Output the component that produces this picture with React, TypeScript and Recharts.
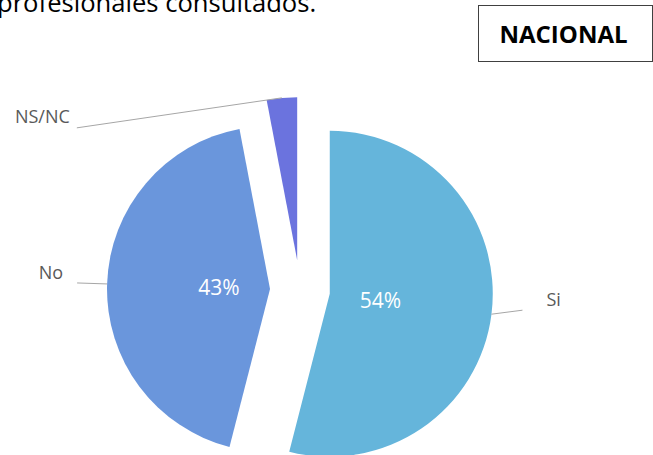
import { PieChart, Pie, Cell, Sector } from "recharts";

const categories = ["Si", "No", "NS/NC"];
const shares = [54, 43, 3];
const sliceColors = ["#65b5db", "#6a96dc", "#6b73de"];

const headerText = "profesionales consultados.";
const boxText = "NACIONAL";

const data = categories.map((name, i) => ({ name, value: shares[i] }));

const RAD = Math.PI / 180;
const EXPLODE = 30;
const FONT = "'Open Sans', 'Segoe UI', sans-serif";

// leader line end relative to the slice edge, text offset relative to line end
const labelLayout: Record<string, { line: [number, number]; text: [number, number]; anchor: "start" | "end" }> = {
  Si: { line: [31, -4], text: [24, -11], anchor: "start" },
  No: { line: [-30, -1], text: [-14, -11], anchor: "end" },
  "NS/NC": { line: [-205, 30], text: [-7, -12], anchor: "end" },
};

function explodedCenter(cx: number, cy: number, midAngle: number) {
  return [cx + EXPLODE * Math.cos(-midAngle * RAD), cy + EXPLODE * Math.sin(-midAngle * RAD)];
}

function ExplodedSector(props: any) {
  const [x, y] = explodedCenter(props.cx, props.cy, props.midAngle);
  return <Sector {...props} cx={x} cy={y} stroke="none" />;
}

function renderLabel(props: any) {
  const { cx, cy, midAngle, outerRadius, percent } = props;
  const name = props.name ?? props.payload?.name;
  const [ox, oy] = explodedCenter(cx, cy, midAngle);
  const cos = Math.cos(-midAngle * RAD);
  const sin = Math.sin(-midAngle * RAD);
  const sx = ox + outerRadius * cos;
  const sy = oy + outerRadius * sin;
  const layout = labelLayout[name];
  const ex = sx + layout.line[0];
  const ey = sy + layout.line[1];
  return (
    <g>
      {percent >= 0.05 && (
        <text
          x={ox + 51 * cos}
          y={oy + 51 * sin}
          fill="#ffffff"
          fontSize={21}
          fontFamily={FONT}
          textAnchor="middle"
          dominantBaseline="central"
        >
          {Math.round(percent * 100)}%
        </text>
      )}
      <path d={`M${sx},${sy}L${ex},${ey}`} stroke="#a6a6a6" strokeWidth={1} fill="none" />
      <text
        x={ex + layout.text[0]}
        y={ey + layout.text[1]}
        fill="#595959"
        fontSize={18}
        fontFamily={FONT}
        textAnchor={layout.anchor}
        dominantBaseline="central"
      >
        {name}
      </text>
    </g>
  );
}

export default function App() {
  return (
    <div style={{ position: "fixed", left: 0, top: 0, width: 653, height: 455, overflow: "hidden", background: "#fff" }}>
      <PieChart
        width={653}
        height={455}
        margin={{ top: 0, right: 0, bottom: 0, left: 0 }}
        accessibilityLayer={false}
        style={{ outline: "none" }}
      >
        <Pie
          data={data}
          dataKey="value"
          nameKey="name"
          cx={300}
          cy={290}
          outerRadius={163}
          startAngle={90}
          endAngle={-270}
          stroke="none"
          shape={ExplodedSector}
          label={renderLabel}
          labelLine={false}
          isAnimationActive={false}
        >
          {data.map((d, i) => (
            <Cell key={d.name} fill={sliceColors[i]} />
          ))}
        </Pie>
      </PieChart>
      <svg width={653} height={455} style={{ position: "absolute", left: 0, top: 0, pointerEvents: "none" }}>
        <text x={-3} y={12} fontSize={25.6} fontFamily={FONT} fill="#000">
          {headerText}
        </text>
        <rect x={478.5} y={5.5} width={174} height={56} fill="none" stroke="#404040" strokeWidth={1} />
        <text x={563.5} y={43} fontSize={24} fontWeight={700} fontFamily={FONT} fill="#000" textAnchor="middle">
          {boxText}
        </text>
      </svg>
    </div>
  );
}
